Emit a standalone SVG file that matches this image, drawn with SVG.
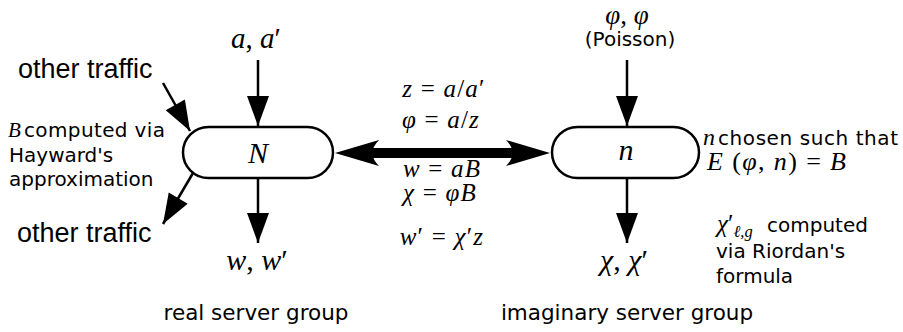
<svg xmlns="http://www.w3.org/2000/svg" width="903" height="332" viewBox="0 0 903 332">
<style>
.node{fill:#fff;stroke:#000;stroke-width:2.5}
.ln{fill:none;stroke:#000;stroke-width:2.5}
.m{font-family:"Liberation Serif","DejaVu Serif",serif;fill:#000}
.eq{font-family:"Liberation Serif","DejaVu Serif",serif;font-size:25px;letter-spacing:1.2px;fill:#000}
.i{font-style:italic}
.s{font-family:"DejaVu Sans","Verdana",sans-serif;font-size:20px;fill:#000}
.a{font-family:"Liberation Sans",Arial,sans-serif;font-size:27px;fill:#000}
.g{font-family:"DejaVu Sans","Verdana",sans-serif;font-size:21.5px;fill:#000}
</style>
<defs>
<marker id="ah" markerUnits="userSpaceOnUse" viewBox="-30 -11 30 22" markerWidth="30" markerHeight="22" refX="0" refY="0" orient="auto" overflow="visible">
<path d="M0,0 L-30,-11 L-30,11 Z" fill="#000"/>
</marker>
</defs>
<rect width="903" height="332" fill="#fff"/>
<g id="connectors">
<line class="ln" x1="258" y1="60" x2="258" y2="126" marker-end="url(#ah)"/>
<line class="ln" x1="163" y1="83" x2="190" y2="131" marker-end="url(#ah)"/>
<line class="ln" x1="193" y1="173" x2="163" y2="224" marker-end="url(#ah)"/>
<line class="ln" x1="258" y1="178" x2="258" y2="243" marker-end="url(#ah)"/>
<line class="ln" x1="627" y1="60" x2="627" y2="126" marker-end="url(#ah)"/>
<line class="ln" x1="627" y1="178" x2="627" y2="243" marker-end="url(#ah)"/>
<line x1="370" y1="153" x2="515" y2="153" stroke="#000" stroke-width="10"/>
<path d="M335,153 L379,140 Q366,153 379,166 Z" fill="#000"/>
<path d="M550,153 L506,140 Q519,153 506,166 Z" fill="#000"/>
</g>
<g id="node-N">
<rect class="node" x="183" y="127" width="150" height="51" rx="25.5"/>
<text class="m i" x="258" y="163" font-size="30" text-anchor="middle">N</text>
</g>
<g id="node-n">
<rect class="node" x="552" y="127" width="147" height="51" rx="25.5"/>
<text class="m i" x="626" y="160" font-size="30" text-anchor="middle">n</text>
</g>
<g id="labels">
<text class="m" x="256" y="48" font-size="29" text-anchor="middle"><tspan class="i">a</tspan>, <tspan class="i">a</tspan>′</text>
<text class="a" x="18" y="78">other traffic</text>
<text class="a" x="17" y="242">other traffic</text>
<text class="m i" x="8" y="137" font-size="21">B</text>
<text class="s" x="24" y="137" textLength="141" lengthAdjust="spacing">computed via</text>
<text class="s" x="9" y="162">Hayward's</text>
<text class="s" x="9" y="186">approximation</text>
<text class="m" x="257" y="270" font-size="30" text-anchor="middle"><tspan class="i">w</tspan>, <tspan class="i">w</tspan>′</text>
<text class="g" x="256" y="320" text-anchor="middle">real server group</text>
<text class="eq" x="444" y="97" text-anchor="middle"><tspan class="i">z</tspan> = <tspan class="i">a</tspan>/<tspan class="i">a</tspan>′</text>
<text class="eq" x="441" y="128" text-anchor="middle"><tspan class="i">φ</tspan> = <tspan class="i">a</tspan>/<tspan class="i">z</tspan></text>
<text class="eq" x="442" y="177" font-size="21.5" text-anchor="middle"><tspan class="i">w</tspan> = <tspan class="i">aB</tspan></text>
<text class="eq" x="440" y="201" font-size="21.5" text-anchor="middle"><tspan class="i">χ</tspan> = <tspan class="i">φB</tspan></text>
<text class="eq" x="442" y="245" text-anchor="middle"><tspan class="i">w</tspan>′ = <tspan class="i">χ</tspan>′<tspan class="i">z</tspan></text>
<text class="m" x="627" y="24" font-size="27" text-anchor="middle"><tspan class="i">φ</tspan>, <tspan class="i">φ</tspan></text>
<text class="s" x="630" y="46" text-anchor="middle" font-size="21">(Poisson)</text>
<text class="m i" x="703" y="145" font-size="24">n</text>
<text class="s" x="718" y="145" textLength="180" lengthAdjust="spacing">chosen such that</text>
<text class="m" x="707" y="170" font-size="26" textLength="139" lengthAdjust="spacing"><tspan class="i">E</tspan> (<tspan class="i">φ</tspan>, <tspan class="i">n</tspan>) = <tspan class="i">B</tspan></text>
<text class="m" x="624" y="270" font-size="30" text-anchor="middle"><tspan class="i">χ</tspan>, <tspan class="i">χ</tspan>′</text>
<text class="m" x="717" y="232" font-size="25"><tspan class="i">χ</tspan>′<tspan class="i" font-size="16.5" dy="5">ℓ,g</tspan></text>
<text class="s" x="767" y="232" font-size="19.5">computed</text>
<text class="s" x="716" y="258" font-size="19.5">via Riordan's</text>
<text class="s" x="716" y="283" font-size="19.5">formula</text>
<text class="g" x="627" y="320" text-anchor="middle">imaginary server group</text>
</g>
</svg>
